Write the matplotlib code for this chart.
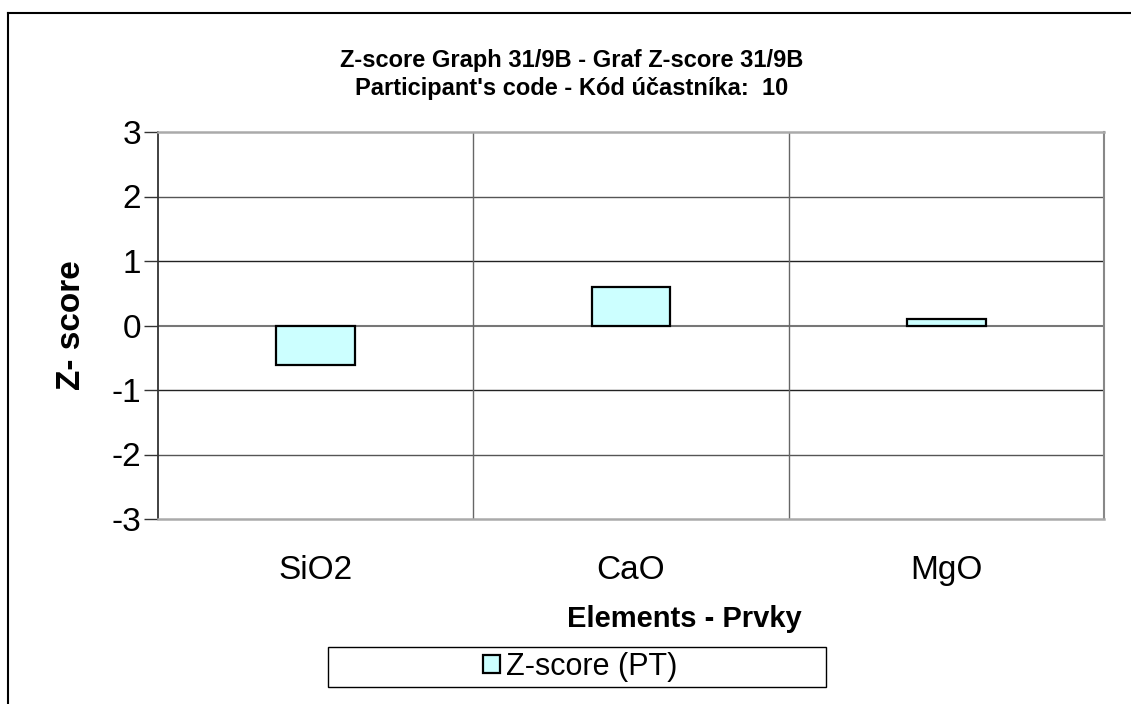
import numpy as np
import matplotlib.pyplot as plt
from matplotlib.patches import Rectangle
from matplotlib.lines import Line2D

# data
elements = ["SiO2", "CaO", "MgO"]
zscores = [-0.62, 0.60, 0.10]
yticks = [-3, -2, -1, 0, 1, 2, 3]

plt.rcParams['font.family'] = ['Liberation Sans', 'DejaVu Sans']

fig = plt.figure(figsize=(11.31, 7.04), dpi=100)
ax = fig.add_axes([158 / 1131, 1 - 519 / 704, (1104 - 158) / 1131, (519 - 132) / 704])

x = np.arange(len(elements))
ax.bar(x, zscores, width=0.25, color='#CCFFFF', edgecolor='black', linewidth=1.6,
       label='Z-score (PT)', zorder=3)

ax.set_xlim(-0.5, len(elements) - 0.5)
ax.set_ylim(-3, 3)
ax.set_yticks(yticks)
ax.set_yticklabels([str(t) for t in yticks], fontsize=24)
ax.set_xticks(x)
ax.set_xticklabels(elements, fontsize=24)
ax.tick_params(axis='x', length=0, pad=26)
ax.tick_params(axis='y', length=10, width=1, color='#333333', direction='out', pad=2)

# horizontal grid
for t in yticks[1:-1]:
    c = '#777777' if t == 0 else ('#222222' if abs(t) == 1 else '#555555')
    lw = 1.5 if t == 0 else 1
    ax.axhline(t, color=c, linewidth=lw, zorder=1)
# category boundaries
for b in x[:-1] + 0.5:
    ax.axvline(b, color='#666666', linewidth=1, zorder=1)

ax.spines['left'].set_color('#333333')
ax.spines['left'].set_linewidth(1.3)
ax.spines['right'].set_color('#888888')
ax.spines['right'].set_linewidth(1.5)
ax.spines['top'].set_color('#aaaaaa')
ax.spines['top'].set_linewidth(1.8)
ax.spines['bottom'].set_color('#aaaaaa')
ax.spines['bottom'].set_linewidth(1.8)

ax.set_ylabel("Z- score", fontsize=24, fontweight='bold', va='center')
ax.yaxis.set_label_coords(71 / 1131, 1 - 325 / 704, transform=fig.transFigure)
ax.set_xlabel("Elements - Prvky", fontsize=21, fontweight='bold', va='center')
ax.xaxis.set_label_coords(684 / 1131, 1 - 619 / 704, transform=fig.transFigure)

fig.text(572 / 1131, 1 - 60 / 704, "Z-score Graph 31/9B - Graf Z-score 31/9B",
         ha='center', va='center', fontsize=17, fontweight='bold')
fig.text(572 / 1131, 1 - 88 / 704, "Participant's code - Kód účastníka:  10",
         ha='center', va='center', fontsize=17, fontweight='bold')

# legend box
fig.patches.append(Rectangle((328 / 1131, 1 - 687 / 704), (826 - 328) / 1131, 40 / 704,
                             transform=fig.transFigure, facecolor='white',
                             edgecolor='black', linewidth=1))
fig.legend(loc='center', bbox_to_anchor=(580 / 1131, 1 - 667 / 704), frameon=False,
           prop={'size': 22}, handlelength=0.55, handleheight=0.55, handletextpad=0.2)

# outer chart border (left and top)
fig.add_artist(Line2D([8 / 1131, 8 / 1131], [0, 1 - 13 / 704], transform=fig.transFigure,
                      color='black', linewidth=1.5))
fig.add_artist(Line2D([8 / 1131, 1], [1 - 13 / 704, 1 - 13 / 704], transform=fig.transFigure,
                      color='black', linewidth=1.5))

fig.savefig("out.png", dpi=100)
